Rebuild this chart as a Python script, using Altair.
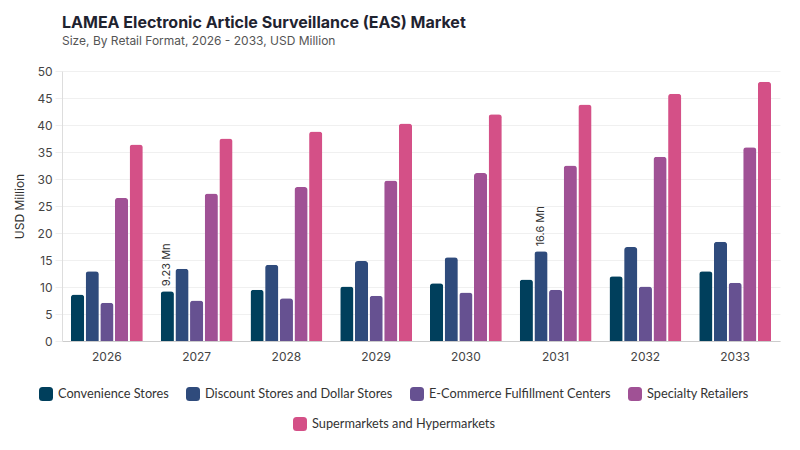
import altair as alt
import pandas as pd

years = ["2026", "2027", "2028", "2029", "2030", "2031", "2032", "2033"]
segments = [
    "Convenience Stores",
    "Discount Stores and Dollar Stores",
    "E-Commerce Fulfillment Centers",
    "Specialty Retailers",
    "Supermarkets and Hypermarkets",
]
colors = ["#003f5c", "#2f4b7c", "#665191", "#a05195", "#d45087"]

convenience = [8.6, 9.23, 9.5, 10.1, 10.7, 11.4, 12.0, 12.9]
discount = [12.9, 13.4, 14.1, 14.8, 15.5, 16.6, 17.4, 18.4]
ecommerce = [7.1, 7.5, 7.9, 8.4, 9.0, 9.5, 10.1, 10.8]
specialty = [26.5, 27.3, 28.5, 29.7, 31.1, 32.5, 34.1, 35.9]
supermarkets = [36.4, 37.5, 38.8, 40.3, 42.0, 43.8, 45.8, 48.0]

# bars that carry a value label
annotated = [("2027", "Convenience Stores"), ("2031", "Discount Stores and Dollar Stores")]

series = [convenience, discount, ecommerce, specialty, supermarkets]
rows = []
for seg, vals in zip(segments, series):
    for yr, v in zip(years, vals):
        label = f"{v} Mn" if (yr, seg) in annotated else ""
        rows.append({"Year": yr, "Segment": seg, "Value": v, "Label": label})
df = pd.DataFrame(rows)

FONT = "Inter"
LFONT = "Lato"
# rounded square legend swatch
rounded = ("M-0.5,-1 H0.5 Q1,-1 1,-0.5 V0.5 Q1,1 0.5,1 H-0.5 "
           "Q-1,1 -1,0.5 V-0.5 Q-1,-1 -0.5,-1 Z")

base = alt.Chart(df).encode(
    x=alt.X(
        "Year:N",
        sort=years,
        scale=alt.Scale(paddingInner=0.2, paddingOuter=0.1),
        axis=alt.Axis(title=None, labelAngle=0, ticks=False, labelPadding=10,
                      labelFontSize=12, labelColor="#444", domainColor="#cccccc"),
    ),
    xOffset=alt.XOffset("Segment:N", sort=segments,
                        scale=alt.Scale(domain=segments, paddingInner=0.1)),
    y=alt.Y(
        "Value:Q",
        scale=alt.Scale(domain=[0, 50]),
        axis=alt.Axis(title="USD Million", values=list(range(0, 55, 5)),
                      titleFontSize=12, titleFontWeight="normal", titleColor="#333",
                      titlePadding=10, labelFontSize=12, labelColor="#444",
                      tickColor="#eeeeee", tickSize=7, labelPadding=3,
                      gridColor="#f0f0f0", domainColor="#dddddd"),
    ),
)

legend_common = dict(
    title=None, direction="horizontal", symbolType=rounded, symbolSize=196,
    symbolStrokeWidth=0, labelFontSize=12.75, labelColor="#333", labelFont=LFONT,
    columnPadding=17, labelOffset=5, labelLimit=300,
)

bars_main = base.transform_filter(
    alt.FieldOneOfPredicate(field="Segment", oneOf=segments[:4])
).mark_bar(cornerRadiusTopLeft=3, cornerRadiusTopRight=3).encode(
    color=alt.Color("Segment:N", sort=segments[:4],
                    scale=alt.Scale(domain=segments[:4], range=colors[:4]),
                    legend=alt.Legend(orient="none", legendX=-23, legendY=316,
                                      **legend_common))
)

bars_super = base.transform_filter(
    alt.FieldEqualPredicate(field="Segment", equal=segments[4])
).mark_bar(cornerRadiusTopLeft=3, cornerRadiusTopRight=3).encode(
    color=alt.Color("Segment:N",
                    scale=alt.Scale(domain=segments[4:], range=colors[4:]),
                    legend=alt.Legend(orient="none", legendX=231, legendY=346,
                                      **legend_common))
)

labels = base.transform_filter("datum.Label != ''").mark_text(
    angle=270, align="left", baseline="middle", dx=5, fontSize=11,
    color="#333", font=FONT
).encode(text="Label:N")

chart = alt.layer(bars_main, bars_super, labels).resolve_scale(
    color="independent"
).properties(
    width=718,
    height=270,
    title=alt.Title(
        "LAMEA Electronic Article Surveillance (EAS) Market",
        subtitle="Size, By Retail Format, 2026 - 2033, USD Million",
        anchor="start", frame="group", font=FONT, fontSize=16, fontWeight="bold",
        color="#1f2330", subtitleFont=FONT, subtitleFontSize=12,
        subtitleColor="#555", subtitlePadding=5, offset=18,
    ),
    padding={"left": 13, "top": 15, "right": 18, "bottom": 10},
).configure_view(stroke=None).configure_axis(labelFont=FONT, titleFont=FONT)

chart.save("out.html", embed_options={"renderer": "svg", "actions": False})
